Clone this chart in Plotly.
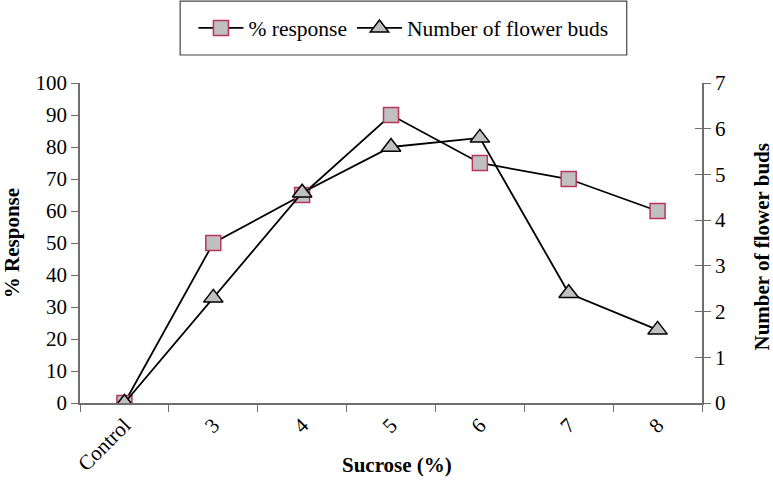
import plotly.graph_objects as go

categories = ["Control", "3", "4", "5", "6", "7", "8"]
pct_response = [0, 50, 65, 90, 75, 70, 60]
flower_buds = [0, 2.3, 4.6, 5.6, 5.8, 2.4, 1.6]
left_ticks = [0, 10, 20, 30, 40, 50, 60, 70, 80, 90, 100]
right_ticks = [0, 1, 2, 3, 4, 5, 6, 7]

font_family = "Liberation Serif"
axis_color = "#6e6e6e"

fig = go.Figure()
fig.add_trace(go.Scatter(
    x=categories, y=pct_response, name="% response", mode="lines+markers",
    line=dict(color="black", width=1.8),
    marker=dict(symbol="square", size=15, color="#c0c0c0",
                line=dict(color="#b8365a", width=1.5)),
    yaxis="y", xaxis="x"))
fig.add_trace(go.Scatter(
    x=categories, y=flower_buds, name="Number of flower buds", mode="lines+markers",
    line=dict(color="black", width=1.8),
    marker=dict(symbol="triangle-up", size=17, color="#c0c0c0",
                line=dict(color="black", width=1.5)),
    yaxis="y2", xaxis="x"))
fig.add_trace(go.Scatter(x=[categories[0]], y=[None], yaxis="y3", showlegend=False,
                         hoverinfo="skip"))

fig.update_layout(
    width=773, height=490,
    margin=dict(l=80, r=71, t=83, b=87, autoexpand=False),
    paper_bgcolor="white", plot_bgcolor="white",
    font=dict(family=font_family, size=21, color="black"),
    showlegend=True,
    legend=dict(orientation="h", x=0.52, xanchor="center", y=1.172, yanchor="middle",
                borderwidth=0, bgcolor="rgba(0,0,0,0)",
                font=dict(size=21.5, family=font_family), itemwidth=45,
                tracegroupgap=0),
    shapes=[dict(type="rect", xref="paper", yref="paper", x0=0.161, x1=0.879,
                 y0=1.0875, y1=1.256, line=dict(color="#444444", width=1.2),
                 fillcolor="rgba(0,0,0,0)", layer="below")],
    xaxis=dict(type="category", categoryorder="array", categoryarray=categories,
               range=[-0.5, 6.5], tickson="boundaries", ticks="outside", ticklen=7,
               tickcolor=axis_color, showline=True, linecolor=axis_color, linewidth=1.5,
               tickangle=-45, showgrid=False, zeroline=False, automargin=False),
    yaxis=dict(range=[0, 100], tickvals=left_ticks, ticks="outside", ticklen=7,
               tickcolor=axis_color, showline=True, linecolor=axis_color, linewidth=1.5,
               showgrid=False, zeroline=False, automargin=False),
    yaxis2=dict(range=[0, 7], tickvals=right_ticks, overlaying="y", side="right",
                ticks="outside", ticklen=7, tickcolor=axis_color, showline=True,
                linecolor=axis_color, linewidth=1.5, showgrid=False, zeroline=False,
                automargin=False),
    yaxis3=dict(range=[0, 7], tickvals=right_ticks, overlaying="y", side="right",
                ticks="inside", ticklen=7, tickcolor=axis_color, showline=False,
                showticklabels=False, showgrid=False, zeroline=False, automargin=False),
    annotations=[
        dict(text="<b>Sucrose (%)</b>", xref="paper", yref="paper", x=0.51, y=-0.194,
             showarrow=False, font=dict(size=21), xanchor="center", yanchor="middle"),
        dict(text="<b>% Response</b>", xref="paper", yref="paper", x=-0.109, y=0.5,
             showarrow=False, font=dict(size=21), textangle=-90,
             xanchor="center", yanchor="middle"),
        dict(text="<b>Number of flower buds</b>", xref="paper", yref="paper", x=1.097, y=0.49,
             showarrow=False, font=dict(size=21), textangle=-90,
             xanchor="center", yanchor="middle"),
    ],
)

fig.write_html("out.html", config={"displayModeBar": False},
               post_script="document.body.style.margin='0';")
